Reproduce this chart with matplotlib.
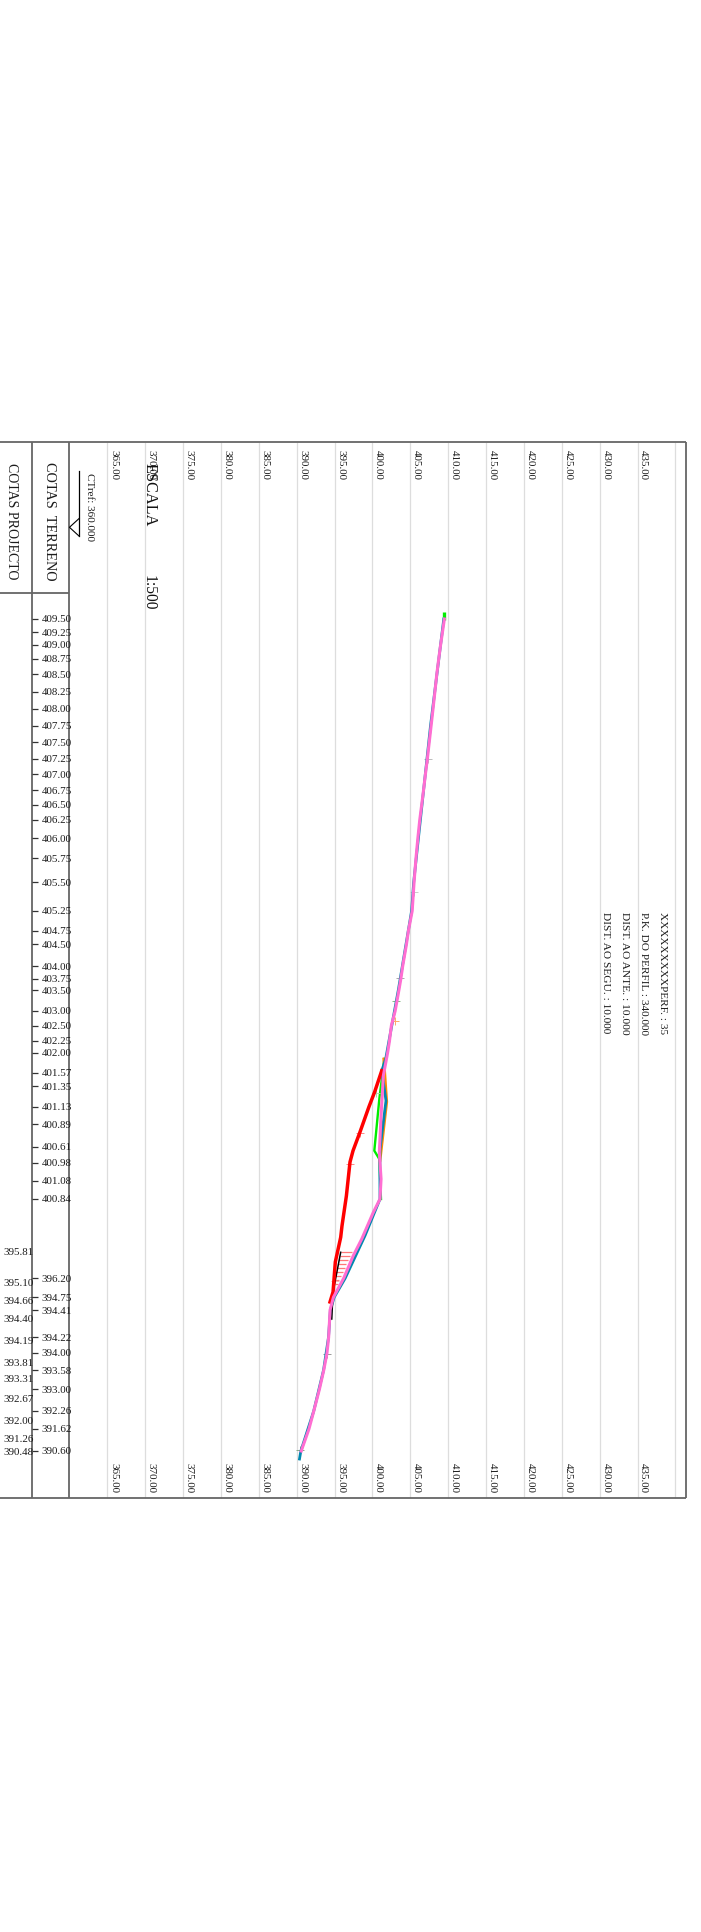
import matplotlib
matplotlib.use("Agg")
import matplotlib.pyplot as plt

plt.rcParams['font.family'] = ['Liberation Serif', 'DejaVu Serif']

# elevation grid
grid_elev = [365, 370, 375, 380, 385, 390, 395, 400, 405, 410, 415, 420, 425, 430, 435, 440]
elev_labels = [365, 370, 375, 380, 385, 390, 395, 400, 405, 410, 415, 420, 425, 430, 435]

# terrain stations: distance along the profile and the printed level
terrain_dist = [0, 13, 26, 40, 55, 72.7, 90, 106.7, 123.3, 140, 155, 171, 186, 200.7, 219, 239, 263, 292,
                311.7, 325, 347, 360, 371, 392, 406.7, 422, 434, 454, 467, 487.7, 505, 527.7, 544, 562, 580,
                659.3, 678.3, 691, 718.3, 734, 751, 770.3, 792, 810, 832]
terrain_text = ['409.50', '409.25', '409.00', '408.75', '408.50', '408.25', '408.00', '407.75', '407.50',
                '407.25', '407.00', '406.75', '406.50', '406.25', '406.00', '405.75', '405.50', '405.25',
                '404.75', '404.50', '404.00', '403.75', '403.50', '403.00', '402.50', '402.25', '402.00',
                '401.57', '401.35', '401.13', '400.89', '400.61', '400.98', '401.08', '400.84',
                '396.20', '394.75', '394.41', '394.22', '394.00', '393.58', '393.00', '392.26', '391.62', '390.60']

# project stations
project_dist = [632.7, 663, 681, 699, 722, 743, 760, 779, 801, 819, 832.7]
project_text = ['395.81', '395.10', '394.66', '394.40', '394.19', '393.81', '393.31', '392.67', '392.00', '391.26', '390.48']

# lines
pink_dist = [0, 13, 26, 40, 55, 72.7, 90, 106.7, 123.3, 140, 155, 171, 186, 200.7, 219, 239, 263, 292,
             311.7, 325, 347, 360, 371, 392, 406.7, 422, 434, 456.7, 496.7, 533.3, 560, 580, 593.3, 620, 636.7,
             659.3, 678.3, 691, 718.3, 734, 751, 770.3, 792, 810, 832]
pink_elev = [409.5, 409.25, 409.0, 408.75, 408.5, 408.25, 408.0, 407.75, 407.5, 407.25, 407.0, 406.75,
             406.5, 406.25, 406.0, 405.75, 405.5, 405.25, 404.75, 404.5, 404.0, 403.75, 403.5, 403.0, 402.5,
             402.25, 402.0, 401.44, 401.14, 400.91, 401.14, 401.0, 400.12, 398.59, 397.47,
             396.2, 394.85, 394.41, 394.22, 394.0, 393.58, 393.0, 392.26, 391.62, 390.6]
teal_dist = [0, 106.7, 263, 292, 371, 422, 440, 451.7, 481.7, 530, 544, 580, 616.7, 659.3, 678.3, 691, 718.3, 751, 792, 832, 840]
teal_elev = [409.42, 407.67, 405.45, 405.17, 403.42, 402.18, 401.75, 401.23, 401.79, 401.0, 400.98, 401.0,
             399.02, 396.4, 394.95, 394.45, 394.2, 393.55, 392.25, 390.55, 390.37]
green_dist = [440, 480, 531.7, 540, 580]
green_elev = [401.57, 400.91, 400.25, 400.91, 401.13]
orange_dist = [440, 483, 541.7]
orange_elev = [401.5, 401.89, 401.0]
red_dist = [451.7, 473, 488, 513, 531.7, 543, 577, 607, 618.3, 643, 673, 683]
red_elev = [401.23, 400.29, 399.53, 398.36, 397.44, 397.04, 396.56, 395.98, 395.81, 395.1, 394.8, 394.4]
black_dist = [633.3, 673, 700]
black_elev = [395.81, 394.8, 394.63]
hatch_dist = [633, 637, 641, 645, 649, 653, 657, 661, 665]
hatch_low = [395.81, 395.7, 395.6, 395.45, 395.3, 395.2, 395.05, 394.95, 394.85]
hatch_high = [397.25, 397.0, 396.8, 396.55, 396.35, 396.1, 395.9, 395.65, 395.45]
cross_dist = [140, 273, 359.3, 381.7, 401.7, 474, 514, 544.7, 661.7, 735, 830.7]
cross_elev = [407.38, 405.43, 403.66, 403.07, 402.96, 400.42, 398.35, 397.05, 395.0, 394.04, 390.5]
cross_color = ['#bbbbbb', '#cccccc', '#aaaaaa', '#88bb88', '#ffaa66', '#aaddaa', '#ff8888', '#ff8888', '#ffaaaa', '#999999', '#88aa88']

info_text = ['XXXXXXXXXPERF. : 35', 'P.K. DO PERFIL : 340.000', 'DIST. AO ANTE. : 10.000', 'DIST. AO SEGU. : 10.000']
info_elev = [438.3, 435.75, 433.3, 430.8]
info_size = [8.1, 8.1, 8.25, 8.2]

fig = plt.figure(figsize=(7.01, 19.33), dpi=100)
ax = fig.add_axes([0, 0, 1, 1])
ax.set_xlim(350.83, 443.38)
ax.set_ylim(1313, -620)
ax.axis('off')

TOP, BOTTOM = -176.7, 878.7
LEFT, RIGHT, COL1, COL2 = 350.83, 441.4, 355.05, 360.0
frame = '#666666'
txt = '#1c1c1c'

ax.vlines(grid_elev, TOP, BOTTOM, color='#dddddd', lw=0.9, zorder=1)
ax.hlines([TOP, BOTTOM], LEFT, RIGHT, color=frame, lw=1.3, zorder=2)
ax.vlines([COL1, COL2, RIGHT], TOP, BOTTOM, color=frame, lw=1.3, zorder=2)
ax.hlines(-26, LEFT, COL2, color=frame, lw=1.3, zorder=2)
ax.hlines(terrain_dist, COL1, COL1 + 0.75, color='#333333', lw=0.9, zorder=2)

for v in elev_labels:
    ax.text(v + 0.82, -169.5, f'{v:.2f}', rotation=270, ha='center', va='top', fontsize=7.9, color=txt, zorder=6)
    ax.text(v + 0.82, 842.7, f'{v:.2f}', rotation=270, ha='center', va='top', fontsize=7.9, color=txt, zorder=6)

for d, t in zip(terrain_dist, terrain_text):
    ax.text(360.3, d, t, ha='right', va='center', fontsize=7.9, color=txt, zorder=6)
for d, t in zip(project_dist, project_text):
    ax.text(355.3, d, t, ha='right', va='center', fontsize=7.9, color=txt, zorder=6)

ax.text(352.4, -98.5, 'COTAS PROJECTO', rotation=270, ha='center', va='center', fontsize=10, color=txt)
ax.text(357.3, -98.5, 'COTAS  TERRENO', rotation=270, ha='center', va='center', fontsize=10.3, color=txt)
ax.text(362.6, -113, 'CTref: 360.000', rotation=270, ha='center', va='center', fontsize=8, color=txt)
ax.text(370.5, -125, 'ESCALA', rotation=270, ha='center', va='center', fontsize=11.7, color='#111111', zorder=7)
ax.text(370.5, -27.5, '1:500', rotation=270, ha='center', va='center', fontsize=11.2, color='#111111', zorder=7)
for v, t, s in zip(info_elev, info_text, info_size):
    ax.text(v, 292, t, rotation=270, ha='center', va='top', fontsize=s, color=txt)

# CTref mark
ax.plot([361.3, 361.3], [-148, -83], color='black', lw=0.9)
ax.plot([361.3, 360.0, 361.3], [-100.7, -91.7, -82.7], color='black', lw=0.8)

ax.hlines(hatch_dist, hatch_low, hatch_high, color='#ff7777', lw=0.9, zorder=3)
ax.plot([409.5, 409.5], [-7, 1], color='#00ee00', lw=2.4, solid_capstyle='butt', zorder=3)
ax.plot(green_elev, green_dist, color='#00ee00', lw=1.7, zorder=3)
ax.plot(orange_elev, orange_dist, color='#ff8a00', lw=2.0, zorder=3)
ax.plot(teal_elev, teal_dist, color='#0088b0', lw=2.0, zorder=4)
ax.plot(black_elev, black_dist, color='black', lw=1.1, zorder=4)
ax.plot(red_elev, red_dist, color='#ff0000', lw=2.5, zorder=4)
ax.plot(pink_elev, pink_dist, color='#ff6ed2', lw=2.2, zorder=5)
for d, e, c in zip(cross_dist, cross_elev, cross_color):
    ax.plot(e, d, marker='+', ms=6, mew=0.7, color=c, zorder=3)

fig.savefig('out.png', dpi=100)
